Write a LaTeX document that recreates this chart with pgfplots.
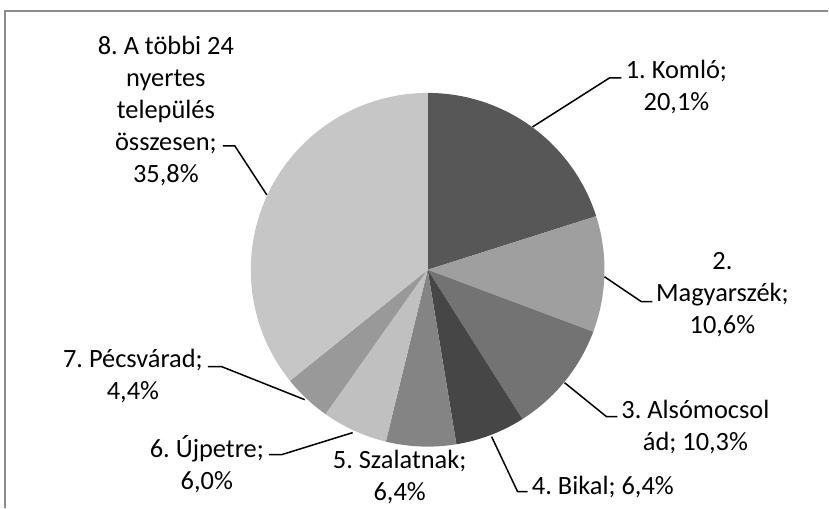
\documentclass[border=0pt]{standalone}
\usepackage{fontspec}
\setmainfont{Carlito}
\usepackage{pgfplots}
\pgfplotsset{compat=1.18}
\frenchspacing
\definecolor{c1}{HTML}{575757}
\definecolor{c2}{HTML}{9F9F9F}
\definecolor{c3}{HTML}{737373}
\definecolor{c4}{HTML}{464646}
\definecolor{c5}{HTML}{848484}
\definecolor{c6}{HTML}{C0C0C0}
\definecolor{c7}{HTML}{999999}
\definecolor{c8}{HTML}{C6C6C6}
\definecolor{frame}{HTML}{8C8C8C}
% share (%) / colour, clockwise from 12 o'clock
\def\slices{20.1/c1,10.6/c2,10.3/c3,6.4/c4,6.4/c5,6.0/c6,4.4/c7,35.8/c8}
\tikzset{lbl/.style={font=\fontsize{13.2bp}{16bp}\selectfont\frenchspacing,inner sep=0pt,align=center}}
\begin{document}
\begin{tikzpicture}
\begin{axis}[width=414.5bp,height=254bp,scale only axis,
  xmin=0,xmax=829,ymin=0,ymax=508,y dir=reverse,hide axis,clip=false]
\path (axis cs:0,0) (axis cs:829,508);
\xdef\start{90}
\foreach \v/\c in \slices {
  \pgfmathsetmacro\e{\start-3.6*\v}
  \edef\tmp{\noexpand\fill[\c] (axis cs:428,270) -- ++(\start:88.5bp) arc[start angle=\start,end angle=\e,radius=88.5bp] -- cycle;}
  \tmp
  \xdef\start{\e}
}
\draw[frame,line width=0.7bp] (axis cs:5,508) -- (axis cs:5,11) -- (axis cs:829,11);
\begin{scope}[line width=0.75bp]
\draw (axis cs:533,127) -- (axis cs:610,78) -- (axis cs:622,78);
\draw (axis cs:605,277) -- (axis cs:642,302) -- (axis cs:653,302);
\draw (axis cs:565,383) -- (axis cs:607,417) -- (axis cs:618,417);
\draw (axis cs:492,437) -- (axis cs:518,492) -- (axis cs:528,492);
\draw (axis cs:353,433) -- (axis cs:282,455) -- (axis cs:269,455);
\draw (axis cs:305,400) -- (axis cs:222,367) -- (axis cs:208,367);
\draw (axis cs:267,195) -- (axis cs:235,146) -- (axis cs:223,146);
\end{scope}
\node[lbl] at (axis cs:677,87) {1. Komló;\\20,1\%};
\node[lbl] at (axis cs:723,295) {2.\\Magyarszék;\\10,6\%};
\node[lbl] at (axis cs:696,427) {3. Alsómocsol\\ád; 10,3\%};
\node[lbl,anchor=west] at (axis cs:532,487) {4. Bikal; 6,4\%};
\node[lbl] at (axis cs:400,477) {5. Szalatnak;\\6,4\%};
\node[lbl] at (axis cs:207,465) {6. Újpetre;\\6,0\%};
\node[lbl] at (axis cs:133,376) {7. Pécsvárad;\\4,4\%};
\node[lbl] at (axis cs:166,111) {8. A többi 24\\nyertes\\település\\összesen;\\35,8\%};
\end{axis}
\end{tikzpicture}
\end{document}
